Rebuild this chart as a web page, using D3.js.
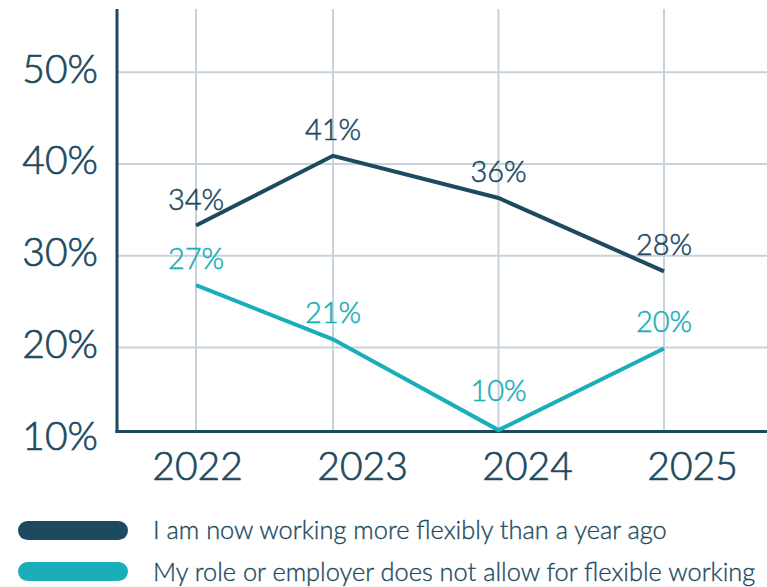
<!DOCTYPE html>
<html>
<head>
<meta charset="utf-8">
<script src="https://cdn.jsdelivr.net/npm/d3@7"></script>
<style>
  html, body { margin: 0; padding: 0; background: #ffffff; }
  svg { display: block; font-family: Lato, "Open Sans", sans-serif; font-weight: 300; }
  text { paint-order: stroke; }
</style>
</head>
<body>
<svg id="chart" width="767" height="587"></svg>
<script>
// ---- data ----
const years = ["2022", "2023", "2024", "2025"];
const flexibleValues = [33.3, 40.9, 36.3, 28.3];
const flexibleLabels = ["34%", "41%", "36%", "28%"];
const notAllowedValues = [26.8, 20.9, 11.0, 19.9];
const notAllowedLabels = ["27%", "21%", "10%", "20%"];
const yTicks = [10, 20, 30, 40, 50];
const seriesNames = [
  "I am now working more flexibly than a year ago",
  "My role or employer does not allow for flexible working"
];

// ---- style ----
const DARK = "#1d4a5f";
const TEAL = "#1aafb8";
const GRID = "#c8d2da";

const svg = d3.select("#chart");
const W = 767;

const axisX = 117, axisTop = 9, axisBottom = 431.5;

const y = d3.scaleLinear().domain([10.85, 56.9]).range([axisBottom, axisTop]);
const yearNums = years.map(Number);
const x = d3.scaleLinear()
  .domain([yearNums[0], yearNums[1], yearNums[3]])
  .range([196, 333, 664]);
const xLabel = d3.scalePoint().domain(years).range([197, 692]);

// horizontal gridlines
svg.append("g").selectAll("line").data(yTicks.filter(t => t > 10)).join("line")
  .attr("x1", axisX).attr("x2", W)
  .attr("y1", d => y(d)).attr("y2", d => y(d))
  .attr("stroke", GRID).attr("stroke-width", 2);

// vertical gridlines
svg.append("g").selectAll("line").data(yearNums).join("line")
  .attr("x1", d => x(d)).attr("x2", d => x(d))
  .attr("y1", axisTop).attr("y2", axisBottom)
  .attr("stroke", GRID).attr("stroke-width", 2);

// y axis
const yAxis = d3.axisLeft(y).tickValues(yTicks).tickSize(0).tickPadding(19)
  .tickFormat(d => d + "%");
const gy = svg.append("g").attr("transform", `translate(${axisX},0)`).call(yAxis);
gy.select(".domain").remove();
gy.selectAll("text")
  .attr("fill", DARK).attr("stroke", DARK).attr("stroke-width", 0.7)
  .attr("font-size", 39).attr("dy", "0.3em")
  .attr("transform", "translate(0,-2)")
  .style("font-family", "Lato, sans-serif").style("font-weight", 300);

// x axis labels
const xAxis = d3.axisBottom(xLabel).tickSize(0).tickPadding(0);
const gx = svg.append("g").attr("transform", `translate(0,${axisBottom})`).call(xAxis);
gx.select(".domain").remove();
gx.selectAll("text")
  .attr("fill", DARK).attr("stroke", DARK).attr("stroke-width", 0.7)
  .attr("font-size", 39).attr("y", 48.5).attr("dy", 0)
  .style("font-family", "Lato, sans-serif").style("font-weight", 300);

// axis lines
svg.append("line").attr("x1", axisX).attr("x2", axisX)
  .attr("y1", axisTop).attr("y2", axisBottom + 1.5)
  .attr("stroke", DARK).attr("stroke-width", 3);
svg.append("line").attr("x1", axisX - 1.5).attr("x2", W)
  .attr("y1", axisBottom).attr("y2", axisBottom)
  .attr("stroke", DARK).attr("stroke-width", 3);

// lines
const series = [
  { values: flexibleValues, labels: flexibleLabels, color: DARK },
  { values: notAllowedValues, labels: notAllowedLabels, color: TEAL }
];
const line = d3.line().x((d, i) => x(yearNums[i])).y(d => y(d));

series.forEach(s => {
  svg.append("path").datum(s.values)
    .attr("d", line).attr("fill", "none")
    .attr("stroke", s.color).attr("stroke-width", 4)
    .attr("stroke-linejoin", "miter");
  svg.append("g").selectAll("text").data(s.values).join("text")
    .attr("x", (d, i) => x(yearNums[i]))
    .attr("y", d => Math.min(y(d) - 16, axisBottom - 31))
    .attr("text-anchor", "middle")
    .attr("font-size", 29)
    .attr("fill", s.color).attr("stroke", s.color).attr("stroke-width", 0.5)
    .text((d, i) => s.labels[i]);
});

// legend
const legend = svg.append("g");
seriesNames.forEach((name, i) => {
  const cy = 530.5 + i * 41;
  legend.append("rect")
    .attr("x", 18).attr("y", cy - 9.5).attr("width", 110).attr("height", 19)
    .attr("rx", 9.5).attr("fill", series[i].color);
  legend.append("text")
    .attr("x", 153).attr("y", 539.3 + i * 41.7)
    .attr("font-size", 25.4).attr("fill", DARK)
    .attr("stroke", DARK).attr("stroke-width", 0.35)
    .text(name);
});
</script>
</body>
</html>
